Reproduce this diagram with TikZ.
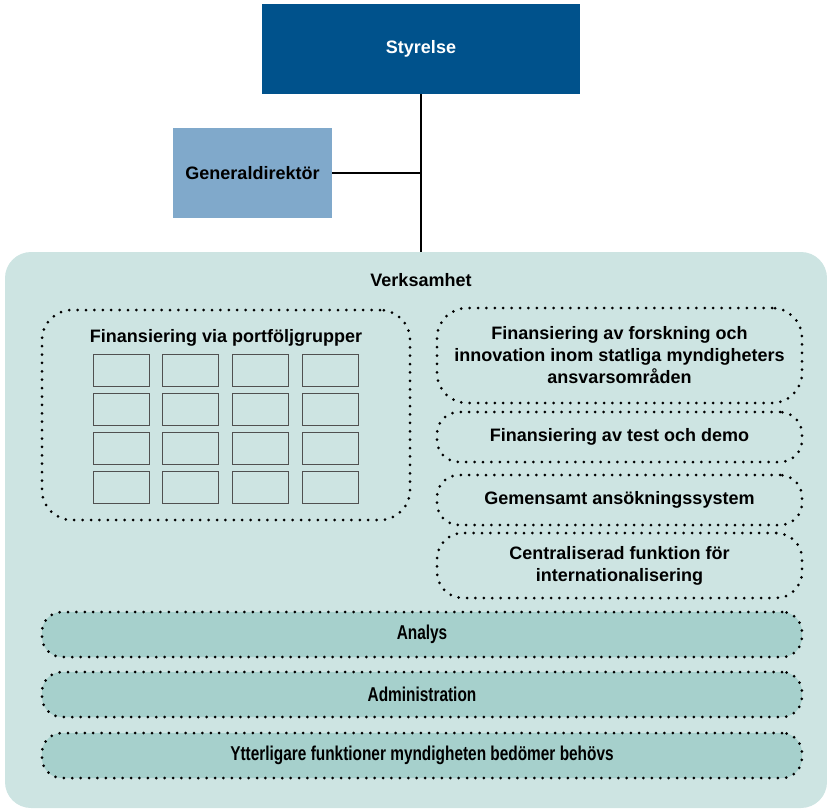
\documentclass[tikz,border=0pt]{standalone}
\usepackage{fontspec}
\setmainfont{Liberation Sans}
\newfontfamily\narrowfont{Liberation Sans}[FakeStretch=0.77]
\usetikzlibrary{positioning,calc}
\definecolor{boardblue}{RGB}{0,82,140}
\definecolor{directorblue}{RGB}{128,169,203}
\definecolor{opsteal}{RGB}{205,228,226}
\definecolor{barteal}{RGB}{166,208,204}
\definecolor{gridgray}{RGB}{80,80,80}

\begin{document}
\begin{tikzpicture}[
    x=1pt, y=-1pt,
    font=\fontsize{18}{22}\selectfont\bfseries,
    headbox/.style={draw=none, minimum width=318pt, minimum height=90pt, inner sep=0pt},
    dotbox/.style={draw=black, line width=3pt, line cap=round, dash pattern=on 0pt off 8.4pt, rounded corners=26pt, inner sep=0pt, align=center},
    barbox/.style={dotbox, fill=barteal, minimum width=760pt, minimum height=45pt, rounded corners=20pt, font=\fontsize{20}{24}\narrowfont\bfseries},
    sidebox/.style={dotbox, minimum width=365pt},
    cell/.style={draw=gridgray, line width=1pt, fill=opsteal, minimum width=56pt, minimum height=32pt, inner sep=0pt},
    link/.style={line width=2.6pt, black}
]
\useasboundingbox (0,0) rectangle (827,809);

% Board
\node[headbox, fill=boardblue, text=white] (board) at (421,49) {Styrelse};

% Director general
\node[headbox, fill=directorblue, minimum width=159pt] (director) at (252.5,173) {Generaldirektör};

% Operations
\node[fill=opsteal, rounded corners=26pt, minimum width=822pt, minimum height=556pt, inner sep=0pt] (ops) at (416,530) {};
\node (opstitle) at (421,280) {Verksamhet};

% Portfolio groups
\node[dotbox, minimum width=368pt, minimum height=210pt, rounded corners=30pt] (portfolio) at (226,415) {};
\node (portfoliotitle) at (226,338) {Finansiering via portföljgrupper};
\foreach \col in {0,...,3}
  \foreach \row in {0,...,3}
    \node[cell] (cell\col\row) at (121+69.7*\col, 370+39*\row) {};

% Right column
\node[sidebox, minimum height=95pt, rounded corners=30pt] (agencies) at (619.5,355.5) {Finansiering av forskning och\\innovation inom statliga myndigheters\\ansvarsområden};
\node[sidebox, minimum height=50pt, rounded corners=22pt] (testdemo) at (619.5,437) {Finansiering av test och demo};
\node[sidebox, minimum height=50pt, rounded corners=22pt] (apply) at (619.5,500) {Gemensamt ansökningssystem};
\node[sidebox, minimum height=65pt, rounded corners=26pt] (intl) at (619.5,565.5) {Centraliserad funktion för\\internationalisering};

% Bars
\node[barbox] (analysis) at (422,634.5) {Analys};
\node[barbox] (admin) at (422,694.5) {Administration};
\node[barbox] (extra) at (422,755.5) {Ytterligare funktioner myndigheten bedömer behövs};

% Connections
\draw[link] (board.south) -- (board.south |- ops.north);
\draw[link] (director.east) -- (director.east -| board.south);

\end{tikzpicture}
\end{document}
